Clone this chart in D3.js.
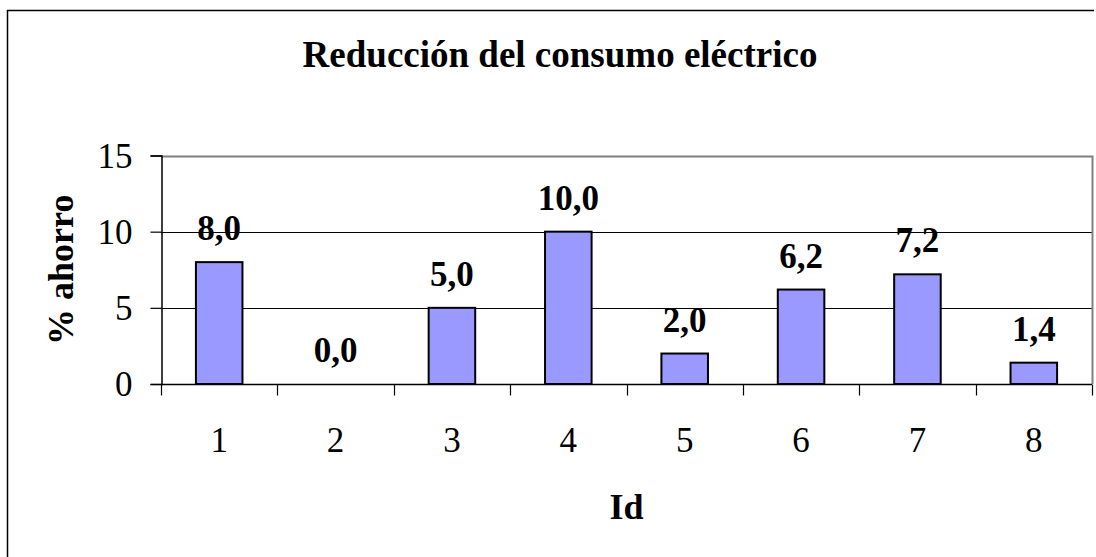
<!DOCTYPE html>
<html>
<head>
<meta charset="utf-8">
<script src="https://cdn.jsdelivr.net/npm/d3@7"></script>
<style>
  html, body { margin: 0; padding: 0; background: #fff; overflow: hidden; }
  svg { display: block; }
  text { font-family: "Liberation Serif", "Times New Roman", serif; fill: #000; }
</style>
</head>
<body>
<div id="container"></div>
<script>
//Width and height
var w = 1096;
var h = 557;

//chart data
var ids = ['1', '2', '3', '4', '5', '6', '7', '8'];
var ahorro = [8.0, 0.0, 5.0, 10.0, 2.0, 6.2, 7.2, 1.4];
var yTicks = [0, 5, 10, 15];

//plot area
var plot = { left: 161, top: 155.5, right: 1092, bottom: 384 };

var svg = d3.select('#container')
    .append('svg')
    .attr('width', w)
    .attr('height', h);

//outer chart border: only left and top edges fall inside the page
svg.append('line')
    .attr('x1', 7.5).attr('x2', 7.5)
    .attr('y1', 10).attr('y2', h)
    .attr('stroke', 'black')
    .attr('stroke-width', 1.5);
svg.append('line')
    .attr('x1', 7).attr('x2', 1094)
    .attr('y1', 10.5).attr('y2', 10.5)
    .attr('stroke', 'black')
    .attr('stroke-width', 1.5);

//scales
var x = d3.scaleBand()
    .domain(ids)
    .range([plot.left, plot.right])
    .paddingInner(0.6)
    .paddingOuter(0.3);

var xEdge = d3.scaleLinear()
    .domain([0, ids.length])
    .range([plot.left, plot.right]);

var y = d3.scaleLinear()
    .domain([0, 15])
    .range([plot.bottom, plot.top]);

//gridlines
svg.append('g')
    .selectAll('line')
    .data(yTicks.filter(function(d) { return d > 0 && d < 15; }))
    .enter()
    .append('line')
    .attr('x1', plot.left)
    .attr('x2', plot.right)
    .attr('y1', function(d) { return Math.round(y(d)) + 0.5; })
    .attr('y2', function(d) { return Math.round(y(d)) + 0.5; })
    .attr('stroke', '#000')
    .attr('stroke-width', 1);

//plot area border, top and right in grey
svg.append('path')
    .attr('d', 'M' + plot.left + ',' + (Math.round(plot.top) + 0.5) +
        'H' + (plot.right + 0.5) + 'V' + plot.bottom)
    .attr('fill', 'none')
    .attr('stroke', '#808080')
    .attr('stroke-width', 2);

//bars
svg.append('g')
    .selectAll('rect')
    .data(ahorro)
    .enter()
    .append('rect')
    .attr('x', function(d, i) { return x(ids[i]); })
    .attr('y', function(d) { return y(d); })
    .attr('width', x.bandwidth())
    .attr('height', function(d) { return y(0) - y(d); })
    .attr('fill', '#9999ff')
    .attr('stroke', '#000')
    .attr('stroke-width', 2);

//y axis
var yAxis = d3.axisLeft(y)
    .tickValues(yTicks)
    .tickSize(11)
    .tickPadding(18)
    .tickFormat(d3.format('d'));

var gy = svg.append('g')
    .attr('transform', 'translate(' + (plot.left + 0.5) + ',0)')
    .call(yAxis);
gy.select('.domain').attr('stroke', '#000').attr('stroke-width', 1.5);
gy.selectAll('.tick line').attr('stroke', '#000').attr('stroke-width', 1.2);
gy.selectAll('.tick text')
    .style('font-size', '35px')
    .attr('dy', '0.34em')
    .style('font-family', '"Liberation Serif", serif');

//x axis: ticks at category boundaries
var gx = svg.append('g')
    .attr('transform', 'translate(0,' + (plot.bottom + 0.5) + ')');
gx.append('line')
    .attr('x1', plot.left)
    .attr('x2', plot.right)
    .attr('stroke', '#000')
    .attr('stroke-width', 1.5);
gx.selectAll('.edge')
    .data(d3.range(ids.length + 1))
    .enter()
    .append('line')
    .attr('class', 'edge')
    .attr('x1', function(d) { return Math.round(xEdge(d)) + 0.5; })
    .attr('x2', function(d) { return Math.round(xEdge(d)) + 0.5; })
    .attr('y1', 0)
    .attr('y2', 11)
    .attr('stroke', '#000')
    .attr('stroke-width', 1.2);
gx.selectAll('.cat')
    .data(ids)
    .enter()
    .append('text')
    .attr('class', 'cat')
    .attr('x', function(d) { return x(d) + x.bandwidth() / 2; })
    .attr('y', 67)
    .attr('text-anchor', 'middle')
    .style('font-size', '35px')
    .text(function(d) { return d; });

//value labels
svg.append('g')
    .selectAll('text')
    .data(ahorro)
    .enter()
    .append('text')
    .attr('x', function(d, i) { return x(ids[i]) + x.bandwidth() / 2; })
    .attr('y', function(d) { return y(d) - 22; })
    .attr('text-anchor', 'middle')
    .style('font-size', '35px')
    .style('font-weight', 'bold')
    .text(function(d) { return d.toFixed(1).replace('.', ','); });

//title
svg.append('text')
    .attr('x', 560)
    .attr('y', 66.5)
    .attr('text-anchor', 'middle')
    .style('font-size', '37px')
    .style('font-weight', 'bold')
    .text('Reducción del consumo eléctrico');

//axis titles
svg.append('text')
    .attr('transform', 'translate(73,' + ((plot.top + plot.bottom) / 2) + ') rotate(-90)')
    .attr('text-anchor', 'middle')
    .style('font-size', '36px')
    .style('font-weight', 'bold')
    .text('% ahorro');

svg.append('text')
    .attr('x', (plot.left + plot.right) / 2)
    .attr('y', 518.5)
    .attr('text-anchor', 'middle')
    .style('font-size', '36px')
    .style('font-weight', 'bold')
    .text('Id');
</script>
</body>
</html>
